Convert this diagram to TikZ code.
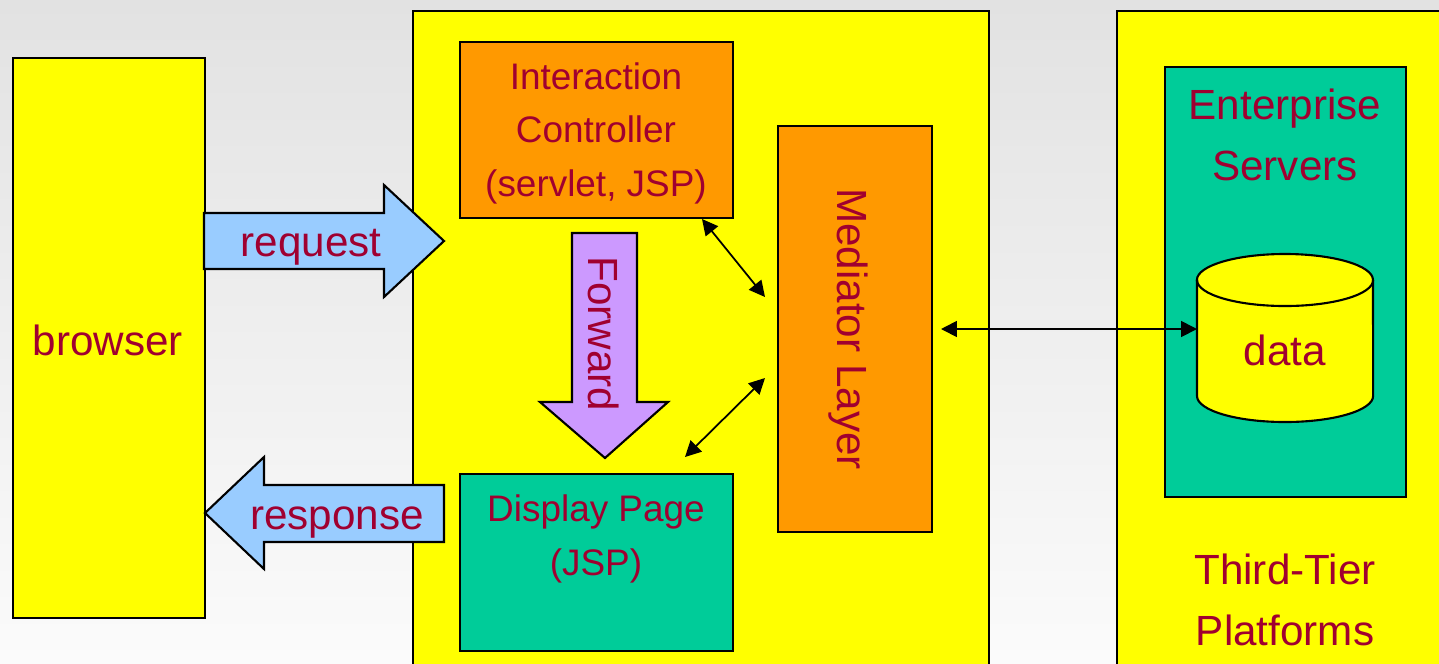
\documentclass[tikz,border=0pt]{standalone}
\usepackage{fontspec}
\setmainfont{Liberation Sans}
\usepackage{xcolor}
\usepackage{tikz}
\usetikzlibrary{arrows.meta, positioning, calc}

\definecolor{boxyellow}{RGB}{255,255,0}
\definecolor{ctrlorange}{RGB}{255,153,0}
\definecolor{pagegreen}{RGB}{0,204,153}
\definecolor{reqblue}{RGB}{153,204,255}
\definecolor{fwdpurple}{RGB}{204,153,255}
\definecolor{labelred}{RGB}{160,0,48}
\definecolor{bgtop}{RGB}{226,226,226}
\definecolor{bgbottom}{RGB}{251,251,251}

\begin{document}
\begin{tikzpicture}[x=0.01cm, y=0.01cm,
  box/.style={draw=black, line width=0.6pt, inner sep=0pt, anchor=north west},
  lbl/.style={text=labelred, font=\fontsize{12}{17.5}\selectfont, align=center, inner sep=0pt},
  smalllbl/.style={text=labelred, font=\fontsize{10.5}{15.2}\selectfont, align=center, inner sep=0pt},
  blockarrow/.style={draw=black, line width=0.6pt, line join=miter},
  link/.style={{Triangle[length=4.5pt,width=4.5pt]}-{Triangle[length=4.5pt,width=4.5pt]}, line width=0.5pt}]

% Background
\clip (0,0) rectangle (1439,-663);
\shade[top color=bgtop, bottom color=bgbottom] (0,0) rectangle (1439,-663);

% Tiers
\node[box, fill=boxyellow, minimum width=1.92cm, minimum height=5.6cm] (browser) at (12,-57) {};
\node[lbl] (browsertxt) at (108,-340) {browser};
\node[box, fill=boxyellow, minimum width=5.76cm, minimum height=6.9cm] (web) at (412,-10) {};
\node[box, fill=boxyellow, minimum width=3.6cm, minimum height=6.9cm] (third) at (1116,-10) {};

% Web tier parts
\node[box, fill=ctrlorange, minimum width=2.73cm, minimum height=1.76cm] (ctrl) at (459,-41) {};
\node[smalllbl] (ctrltxt) at (596,-133) {Interaction\\Controller\\(servlet, JSP)};
\node[box, fill=pagegreen, minimum width=2.73cm, minimum height=1.77cm] (page) at (459,-473) {};
\node[smalllbl] (pagetxt) at (596,-539) {Display Page\\(JSP)};
\node[box, fill=ctrlorange, minimum width=1.54cm, minimum height=4.06cm] (med) at (777,-125) {};
\node[lbl, rotate=-90] (medtxt) at (848,-329) {Mediator Layer};

% Third tier parts
\node[box, fill=pagegreen, minimum width=2.41cm, minimum height=4.3cm] (ent) at (1164,-66) {};
\node[lbl] (enttxt) at (1285,-135) {Enterprise\\Servers};
\node[lbl] (thirdtxt) at (1285,-600) {Third-Tier\\Platforms};

% Database cylinder
\filldraw[fill=boxyellow, draw=black, line width=0.6pt]
  (1197,-280) -- (1197,-396) arc[start angle=180, end angle=360, x radius=0.88cm, y radius=0.26cm]
  -- (1373,-280) arc[start angle=0, end angle=180, x radius=0.88cm, y radius=0.26cm] -- cycle;
\draw[line width=0.6pt] (1197,-280) arc[start angle=180, end angle=360, x radius=0.88cm, y radius=0.26cm];
\node[lbl] (data) at (1285,-350) {data};

% Request / response / forward
\draw[blockarrow, fill=reqblue] (204,-213) -- (384,-213) -- (384,-185) -- (444,-241)
  -- (384,-297) -- (384,-269) -- (204,-269) -- cycle;
\node[lbl] (reqtxt) at (311,-247) {request};
\draw[blockarrow, fill=reqblue] (444,-485) -- (264,-485) -- (264,-457) -- (205,-513)
  -- (264,-569) -- (264,-542) -- (444,-542) -- cycle;
\node[lbl] (resptxt) at (337,-523) {response};
\draw[blockarrow, fill=fwdpurple] (572,-233) -- (637,-233) -- (637,-402) -- (668,-402)
  -- (605,-458) -- (540,-402) -- (572,-402) -- cycle;
\node[lbl, rotate=-90] (fwdtxt) at (604,-334) {Forward};

% Links to the mediator
\coordinate (ctrlout) at (702,-219);
\coordinate (medin1) at (765,-297);
\coordinate (pageout) at (685,-457);
\coordinate (medin2) at (765,-378);
\coordinate (medout) at (941,-329);
\coordinate (datain) at (1197,-329);
\draw[link] (ctrlout) -- (medin1);
\draw[link] (pageout) -- (medin2);
\draw[link] (medout) -- (datain);

\end{tikzpicture}
\end{document}
